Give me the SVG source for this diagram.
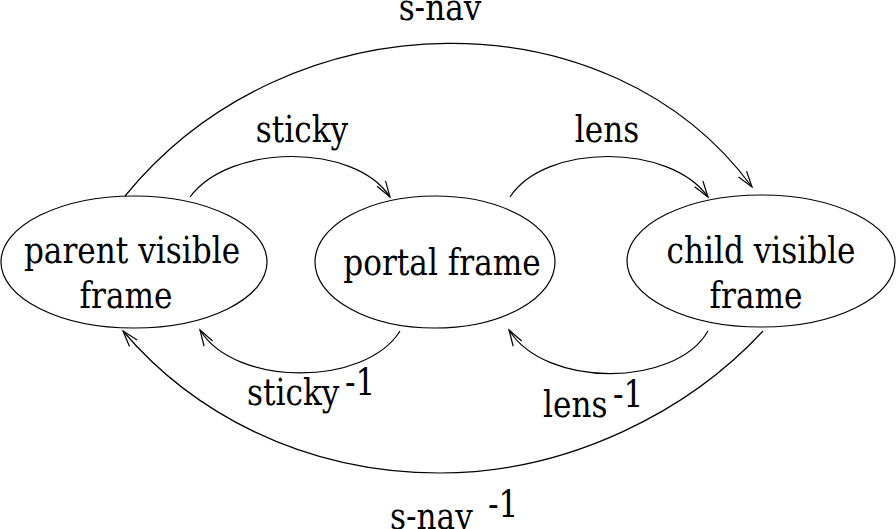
<svg xmlns="http://www.w3.org/2000/svg" width="896" height="529" viewBox="0 0 896 529">
  <style>
    .node ellipse { fill: none; stroke: #000; stroke-width: 1.2; }
    .lbl { font-family: "DejaVu Serif", serif; font-size: 38px; fill: #000; }
    .mid { text-anchor: middle; }
    .edge { fill: none; stroke: #000; stroke-width: 1.2; marker-end: url(#open); }
  </style>
  <defs>
    <marker id="open" markerUnits="userSpaceOnUse" markerWidth="20" markerHeight="14" viewBox="-17 -7 20 14" refX="0" refY="0" orient="auto">
      <path d="M-16,-5 L0,0 L-16,5" fill="none" stroke="#000" stroke-width="1.2"/>
    </marker>
  </defs>
  <rect width="896" height="529" fill="#fff"/>

  <!-- labels are narrowed horizontally to give a condensed serif face -->
  <g id="parent-visible-frame" class="node">
    <ellipse cx="134" cy="262" rx="133" ry="66"/>
    <text class="lbl mid" transform="translate(132,263) scale(0.82,1)">parent visible</text>
    <text class="lbl mid" transform="translate(126,308) scale(0.82,1)">frame</text>
  </g>
  <g id="portal-frame" class="node">
    <ellipse cx="435" cy="262" rx="120" ry="66"/>
    <text class="lbl mid" transform="translate(442,275) scale(0.82,1)">portal frame</text>
  </g>
  <g id="child-visible-frame" class="node">
    <ellipse cx="761" cy="261" rx="134" ry="66"/>
    <text class="lbl mid" transform="translate(761,263) scale(0.82,1)">child visible</text>
    <text class="lbl mid" transform="translate(756,308) scale(0.82,1)">frame</text>
  </g>

  <g id="connectors">
    <path class="edge" d="M125,196 C290,-6 610,-6 752,187"/>
    <path class="edge" d="M190,197 C230,143 355,143 390,197"/>
    <path class="edge" d="M510,197 C545,143 670,143 708,197"/>
    <path class="edge" d="M400,331 C365,387 235,387 200,330"/>
    <path class="edge" d="M708,331 C675,388 545,388 509,330"/>
    <path class="edge" d="M763,331 C690,410 570,473 440,473 C300,473 190,410 123,331"/>
  </g>

  <g id="edge-labels">
    <text class="lbl mid" transform="translate(440,20) scale(0.82,1)">s-nav</text>
    <text class="lbl mid" transform="translate(302,142) scale(0.82,1)">sticky</text>
    <text class="lbl mid" transform="translate(607,142) scale(0.82,1)">lens</text>
    <text class="lbl" transform="translate(247,405) scale(0.82,1)">sticky</text>
    <text class="lbl" transform="translate(345,395) scale(0.82,1)">-1</text>
    <text class="lbl" transform="translate(543,417) scale(0.82,1)">lens</text>
    <text class="lbl" transform="translate(613,407) scale(0.82,1)">-1</text>
    <text class="lbl" transform="translate(390,529) scale(0.82,1)">s-nav</text>
    <text class="lbl" transform="translate(488,517) scale(0.82,1)">-1</text>
  </g>
</svg>
